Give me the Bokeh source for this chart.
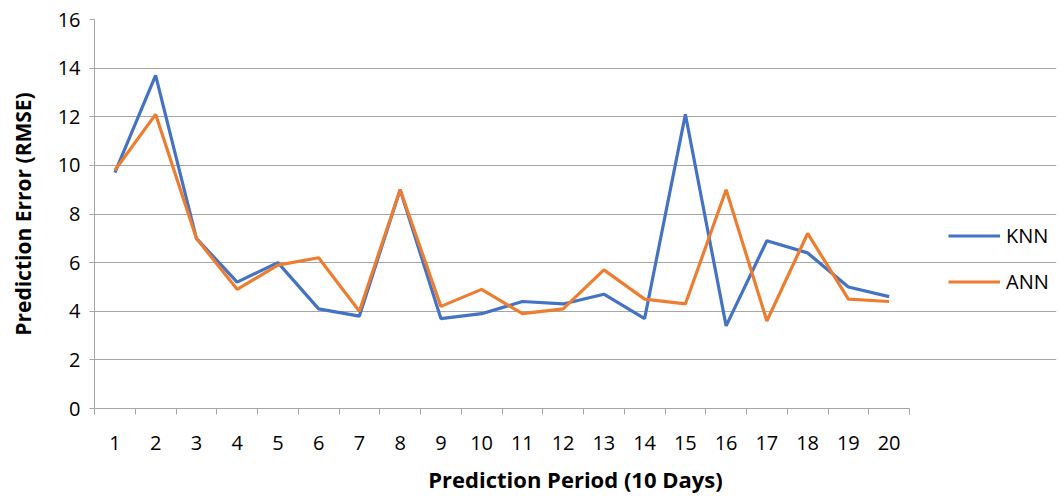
from bokeh.plotting import figure
from bokeh.models import FixedTicker, Legend, LegendItem, Range1d
from bokeh.embed import file_html
from bokeh.resources import INLINE

periods = list(range(1, 21))
knn = [9.7, 13.7, 7.0, 5.2, 6.0, 4.1, 3.8, 9.0, 3.7, 3.9, 4.4, 4.3, 4.7, 3.7, 12.1, 3.4, 6.9, 6.4, 5.0, 4.6]
ann = [9.8, 12.1, 7.0, 4.9, 5.9, 6.2, 4.0, 9.0, 4.2, 4.9, 3.9, 4.1, 5.7, 4.5, 4.3, 9.0, 3.6, 7.2, 4.5, 4.4]
y_ticks = [0, 2, 4, 6, 8, 10, 12, 14, 16]

FONT = "Open Sans"
GRID = "#a6a6a6"

# the category area is 815 px wide; the frame extends further right
# so that the legend (drawn inside the frame) sits to the right of it.
CAT_PX = 815.0
FRAME_PX = 962.0
x_start = 0.5
x_end = 0.5 + 20 * FRAME_PX / CAT_PX

p = figure(width=1060, height=496, output_backend="svg", toolbar_location=None,
           x_range=Range1d(x_start, x_end), y_range=Range1d(0, 16),
           min_border_left=94, min_border_right=4, min_border_top=19, min_border_bottom=87)
p.outline_line_color = None
p.xgrid.grid_line_color = None
p.ygrid.grid_line_color = GRID
p.ygrid.grid_line_width = 1
p.ygrid.ticker = FixedTicker(ticks=y_ticks)
p.ygrid.bounds = (0.5, 20.5)

r1 = p.line(periods, knn, line_color="#4472C4", line_width=3.2)
r2 = p.line(periods, ann, line_color="#ED7D31", line_width=3.2)

xa = p.xaxis[0]
xa.ticker = FixedTicker(ticks=periods, minor_ticks=[i + 0.5 for i in range(0, 21)])
xa.bounds = (0.5, 20.5)
xa.major_tick_line_color = None
xa.major_tick_out = 0
xa.minor_tick_in = 0
xa.minor_tick_out = 6
xa.minor_tick_line_color = GRID
xa.axis_line_color = GRID
xa.major_label_standoff = 21
xa.major_label_text_font = FONT
xa.major_label_text_font_size = "20px"
xa.major_label_text_color = "#000000"
xa.axis_label = "Prediction Period (10 Days)"
xa.axis_label_text_font = FONT
xa.axis_label_text_font_style = "bold"
xa.axis_label_text_font_size = "22px"
xa.axis_label_text_color = "#000000"
xa.axis_label_standoff = 11

ya = p.yaxis[0]
ya.ticker = FixedTicker(ticks=y_ticks)
ya.minor_tick_line_color = None
ya.major_tick_in = 0
ya.major_tick_out = 5
ya.major_tick_line_color = GRID
ya.axis_line_color = GRID
ya.major_label_standoff = 9
ya.major_label_text_font = FONT
ya.major_label_text_font_size = "20px"
ya.major_label_text_color = "#000000"
ya.axis_label = "Prediction Error (RMSE)"
ya.axis_label_text_font = FONT
ya.axis_label_text_font_style = "bold"
ya.axis_label_text_font_size = "21px"
ya.axis_label_text_color = "#000000"
ya.axis_label_standoff = 18

legend = Legend(items=[LegendItem(label="KNN", renderers=[r1]),
                       LegendItem(label="ANN", renderers=[r2])],
                location=(854, 113), orientation="vertical")
legend.border_line_color = None
legend.background_fill_alpha = 0
legend.margin = 0
legend.padding = 0
legend.glyph_width = 52
legend.glyph_height = 27
legend.label_height = 27
legend.label_text_font = FONT
legend.label_text_font_size = "20px"
legend.label_text_color = "#000000"
legend.label_standoff = 6
legend.spacing = 19
p.add_layout(legend, "center")

open("out.html", "w").write(file_html(p, INLINE))
